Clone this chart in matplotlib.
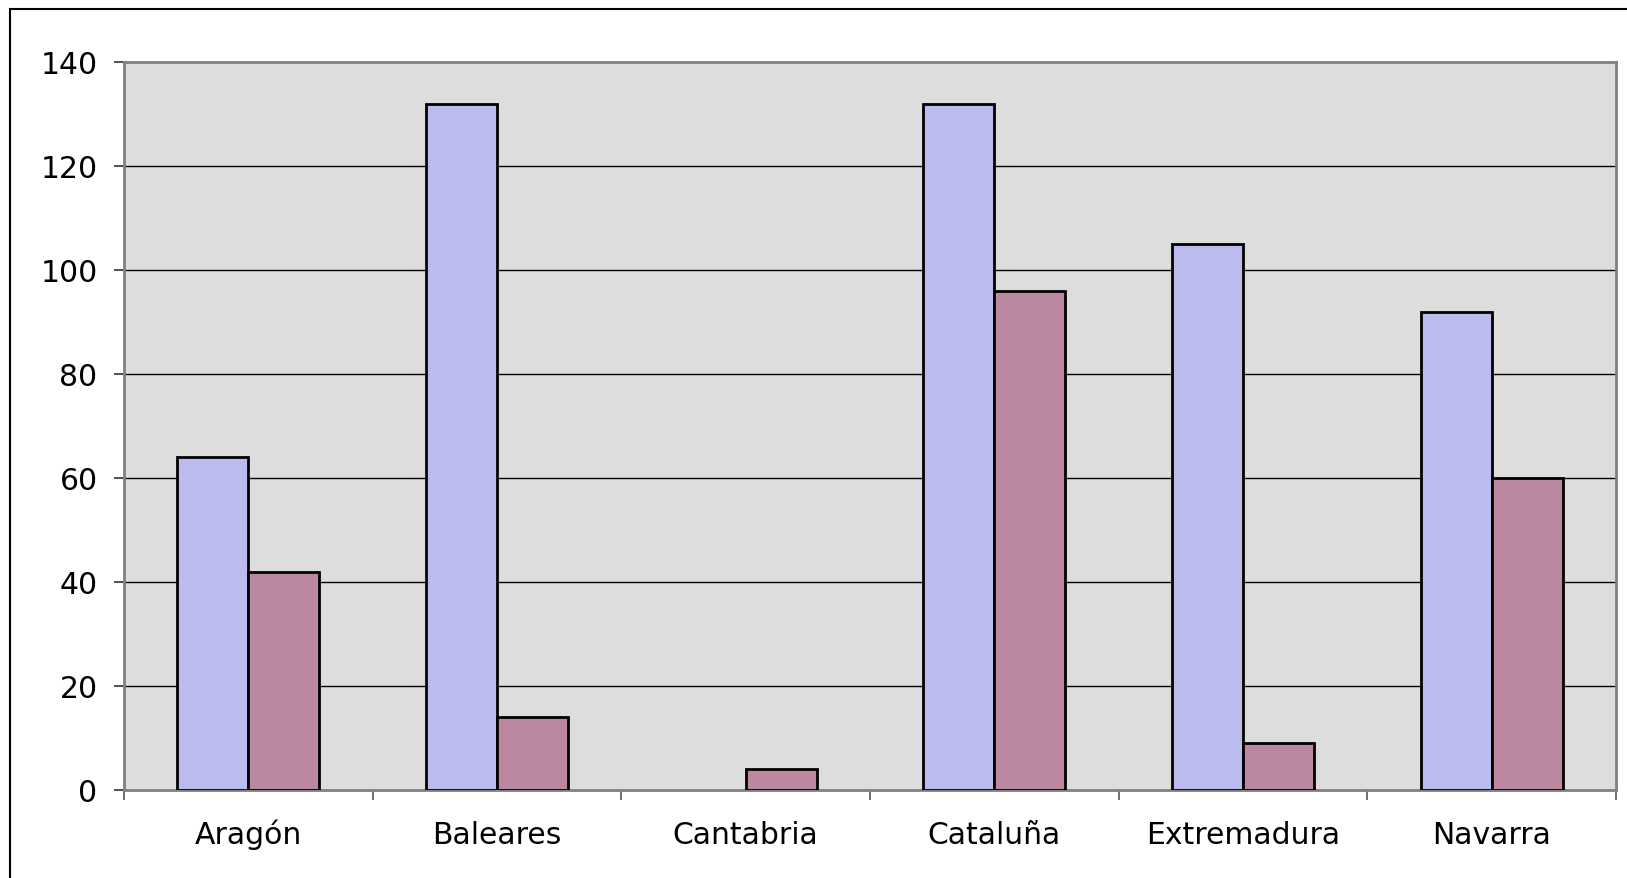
import matplotlib
matplotlib.use("Agg")
import matplotlib.pyplot as plt
import numpy as np
from matplotlib.lines import Line2D
from matplotlib.transforms import blended_transform_factory

categories = ["Aragón", "Baleares", "Cantabria", "Cataluña", "Extremadura", "Navarra"]
series_a = [64, 132, 0, 132, 105, 92]
series_b = [42, 14, 4, 96, 9, 60]
yticks = [0, 20, 40, 60, 80, 100, 120, 140]

W, H, DPI = 1627, 879, 100
fig = plt.figure(figsize=(W / DPI, H / DPI), dpi=DPI)
fig.patch.set_facecolor("white")

# outer frame (top and left visible, rest cut off)
fig.add_artist(Line2D([10 / W, 10 / W], [0, 1 - 10 / H], transform=fig.transFigure, color="black", lw=1.5))
fig.add_artist(Line2D([10 / W, 1], [1 - 10 / H, 1 - 10 / H], transform=fig.transFigure, color="black", lw=1.5))

ax = fig.add_axes([124 / W, 88 / H, (1616 - 124) / W, (816 - 88) / H])
ax.set_facecolor("#DDDDDD")

x = np.arange(len(categories))
bw = 0.286
bars_a = ax.bar(x - bw / 2, series_a, width=bw, color="#BBBBEE", edgecolor="black", linewidth=2, zorder=3)
bars_b = ax.bar(x + bw / 2, series_b, width=bw, color="#BC88A1", edgecolor="black", linewidth=2, zorder=3)
for b in list(bars_a) + list(bars_b):
    if b.get_height() == 0:
        b.set_visible(False)

ax.set_xlim(-0.5, len(categories) - 0.5)
ax.set_ylim(0, 140)
ax.set_yticks(yticks)
ax.set_yticklabels([str(v) for v in yticks])
for v in yticks[1:-1]:
    ax.axhline(v, color="black", lw=1, zorder=1)

ax.set_xticks(np.arange(len(categories) + 1) - 0.5)
ax.set_xticklabels([])
ax.tick_params(axis="x", length=7, width=1.2, color="#555555", direction="out")
ax.tick_params(axis="y", length=7, width=1.2, color="#333333", pad=12, labelsize=21.5)

trans = blended_transform_factory(ax.transData, ax.transAxes)
for xi, name in zip(x, categories):
    ax.text(xi, -0.0728, name, transform=trans, ha="center", va="baseline",
            fontsize=21.5, family="DejaVu Sans", clip_on=False)

for s in ["left", "top", "right", "bottom"]:
    ax.spines[s].set_color("#808080")
    ax.spines[s].set_linewidth(2)

for lab in ax.get_yticklabels():
    lab.set_fontfamily("DejaVu Sans")

fig.savefig("out.png", dpi=DPI)
